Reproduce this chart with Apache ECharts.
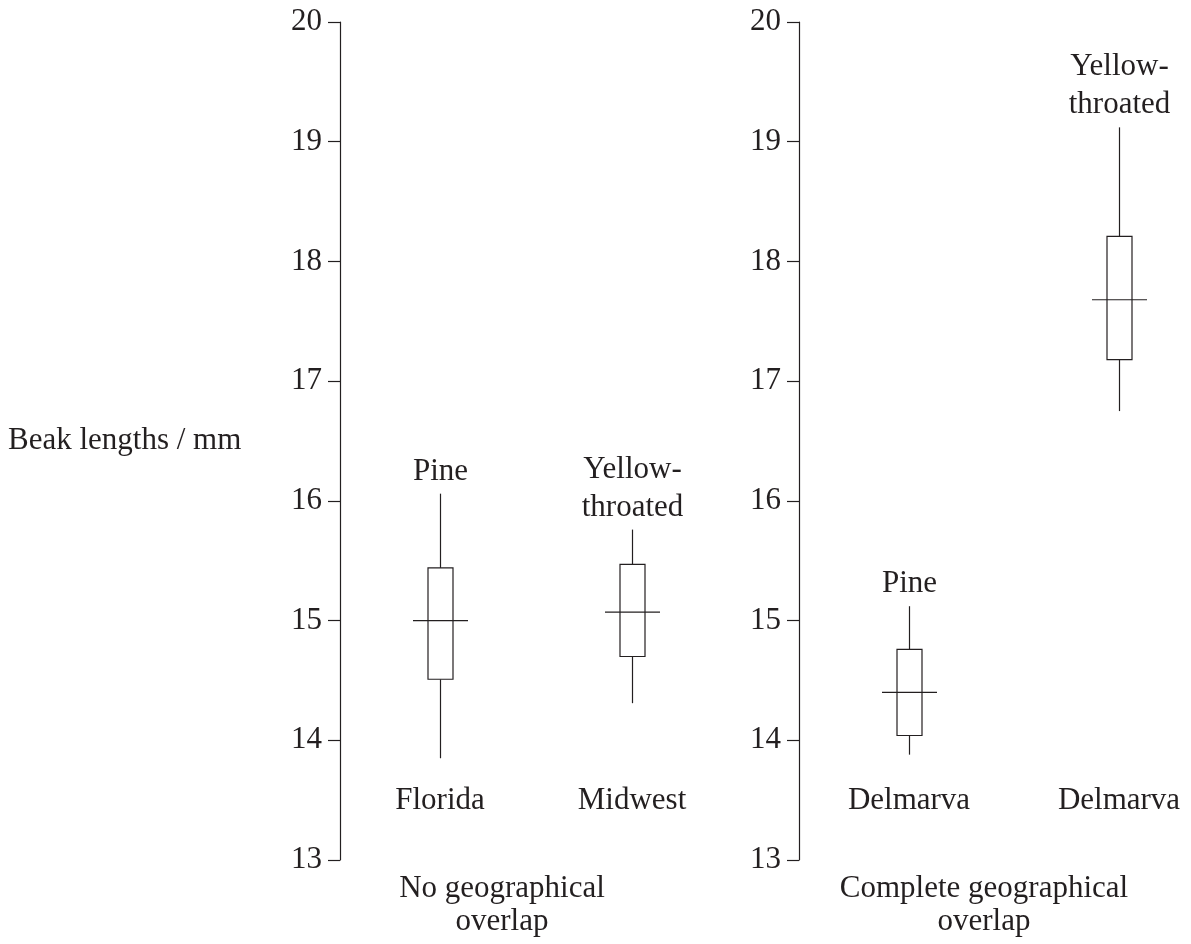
<!DOCTYPE html>
<html>
<head>
    <meta charset="utf-8">
    <style type="text/css">
        html,body { margin: 0px; padding: 0px; background: #fff; }
    </style>
    <script src="https://cdn.jsdelivr.net/npm/echarts@6/dist/echarts.min.js"></script>
</head>
<body>
    <div id="chart" style="width: 1191px; height: 944px;"></div>
    <script type="text/javascript">
        // region names under each box
        var regionsLeft = ['Florida', 'Midwest'];
        var regionsRight = ['Delmarva', 'Delmarva'];
        // species names above each box
        var speciesLeft = ['Pine', 'Yellow-\nthroated'];
        var speciesRight = ['Pine', 'Yellow-\nthroated'];
        // [low whisker, Q1, median, Q3, high whisker] in mm
        var boxesLeft = [
            [13.85, 14.51, 15.00, 15.44, 16.06],
            [14.31, 14.70, 15.07, 15.47, 15.76]
        ];
        var boxesRight = [
            [13.88, 14.04, 14.40, 14.76, 15.12],
            [16.75, 17.18, 17.68, 18.21, 19.12]
        ];
        var yTicks = [13, 14, 15, 16, 17, 18, 19, 20];
        var panelTitles = ['No geographical\noverlap', 'Complete geographical\noverlap'];
        var yName = 'Beak lengths / mm';

        var ink = '#231f20';
        var serif = '"Liberation Serif", "DejaVu Serif", serif';
        var fs = 31;

        function boxData(boxes){
            return boxes.map(function(b, i){ return [i].concat(b); });
        }

        function makeRender(species){
            return function(params, api){
                var x = api.value(0);
                var lo = api.coord([x, api.value(1)]);
                var q1 = api.coord([x, api.value(2)]);
                var md = api.coord([x, api.value(3)]);
                var q3 = api.coord([x, api.value(4)]);
                var hi = api.coord([x, api.value(5)]);
                var cx = Math.round(lo[0]) + 0.5;
                var bw = 25, mw = 55;
                var st = { stroke: ink, lineWidth: 1.2, fill: null };
                return {
                    type: 'group',
                    children: [
                        { type: 'line', shape: { x1: cx, y1: hi[1], x2: cx, y2: q3[1] }, style: st },
                        { type: 'line', shape: { x1: cx, y1: q1[1], x2: cx, y2: lo[1] }, style: st },
                        { type: 'rect', shape: { x: cx - bw / 2, y: q3[1], width: bw, height: q1[1] - q3[1] },
                          style: { stroke: ink, lineWidth: 1.2, fill: '#fff' } },
                        { type: 'line', shape: { x1: cx - mw / 2, y1: md[1], x2: cx + mw / 2, y2: md[1] }, style: st },
                        { type: 'text', x: cx, y: hi[1] - 3,
                          style: { text: species[params.dataIndex], fill: ink, fontSize: fs, fontFamily: serif,
                                   align: 'center', verticalAlign: 'bottom', lineHeight: 38 } }
                    ]
                };
            };
        }

        function yAxisCfg(idx, off){
            return {
                gridIndex: idx, type: 'value', min: yTicks[0], max: yTicks[yTicks.length - 1], interval: 1,
                offset: off,
                splitLine: { show: false },
                axisLine: { show: true, lineStyle: { color: ink, width: 1.2 } },
                axisTick: { show: true, length: 12, lineStyle: { color: ink, width: 1.2 } },
                axisLabel: { margin: 18, color: ink, fontSize: fs, fontFamily: serif }
            };
        }

        function xAxisCfg(idx, cats){
            return {
                gridIndex: idx, type: 'category', data: cats, offset: -75,
                axisLine: { show: false }, axisTick: { show: false }, splitLine: { show: false },
                axisLabel: { margin: 0, color: ink, fontSize: fs, fontFamily: serif }
            };
        }

        var myChart = echarts.init(document.getElementById('chart'));
        var option = {
            backgroundColor: '#fff',
            animation: false,
            grid: [
                { left: 344, width: 384, top: 22, bottom: 84, outerBoundsMode: 'none' },
                { left: 804, width: 420, top: 22, bottom: 84, outerBoundsMode: 'none' }
            ],
            xAxis: [ xAxisCfg(0, regionsLeft), xAxisCfg(1, regionsRight) ],
            yAxis: [ yAxisCfg(0, 4), yAxisCfg(1, 5) ],
            graphic: [
                { type: 'text', x: 502, y: 872,
                  style: { text: panelTitles[0], fill: ink, fontSize: fs, fontFamily: serif, align: 'center', lineHeight: 33 } },
                { type: 'text', x: 984, y: 872,
                  style: { text: panelTitles[1], fill: ink, fontSize: fs, fontFamily: serif, align: 'center', lineHeight: 33 } },
                { type: 'text', x: 8, y: 441,
                  style: { text: yName, fill: ink, fontSize: fs, fontFamily: serif, verticalAlign: 'middle' } }
            ],
            series: [
                { type: 'custom', xAxisIndex: 0, yAxisIndex: 0, data: boxData(boxesLeft),
                  renderItem: makeRender(speciesLeft), clip: false },
                { type: 'custom', xAxisIndex: 1, yAxisIndex: 1, data: boxData(boxesRight),
                  renderItem: makeRender(speciesRight), clip: false }
            ]
        };
        myChart.setOption(option);
    </script>
</body>
</html>
